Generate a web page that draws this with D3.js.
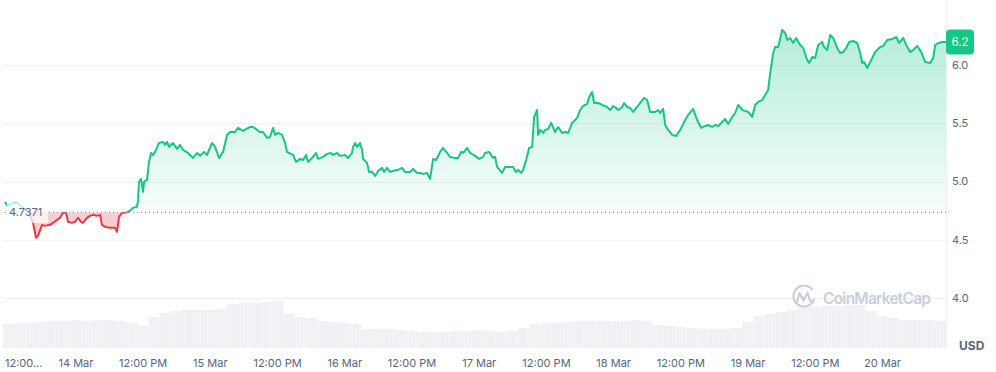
<!DOCTYPE html>
<html><head><meta charset="utf-8">
<script src="https://cdn.jsdelivr.net/npm/d3@7"></script>
<style>body{margin:0;background:#fff}svg{display:block;font-family:Inter,"Noto Sans",sans-serif}</style>
</head><body><svg id="c" width="996" height="372"></svg>
<script>
// hours since start (13 Mar 11:20) and prices (USD)
const hours=[0,0.36,0.89,1.61,2.14,2.86,3.57,4.29,5.0,5.54,
5.89,6.61,7.14,8.04,8.57,9.29,9.82,10.36,10.89,11.25,
11.96,12.5,13.04,13.57,13.93,14.64,15.18,15.71,16.43,16.96,
17.32,17.86,18.75,19.64,20.0,20.36,20.89,21.43,21.96,22.5,
22.86,23.57,23.75,23.93,24.29,24.64,24.82,25.36,25.71,26.07,
26.43,26.96,27.5,28.21,28.57,28.93,29.29,30.0,30.71,31.25,
31.79,32.68,33.57,34.29,34.82,35.54,36.07,36.96,37.5,38.21,
38.93,39.64,40.18,41.07,41.61,42.5,43.75,44.29,45.0,45.54,
46.07,46.79,47.32,47.86,48.21,48.75,49.46,50.0,50.36,50.71,
51.43,51.96,52.68,53.21,53.75,54.11,54.82,55.54,55.89,56.79,
57.5,58.21,58.57,59.29,59.82,60.71,61.25,61.96,62.14,62.5,
62.86,63.39,63.75,63.93,64.64,65.0,65.54,66.07,66.61,67.32,
67.68,68.21,68.75,69.29,70.18,70.89,71.43,72.32,72.86,73.57,
74.11,74.64,75.36,75.89,76.43,76.96,77.68,78.21,78.93,79.46,
80.36,80.89,81.43,81.79,82.5,83.04,83.93,84.64,85.36,85.71,
86.43,87.14,87.5,87.86,88.75,89.29,90.18,90.71,91.25,91.61,
92.14,92.5,93.04,93.57,94.11,94.46,95.0,95.18,95.54,96.07,
96.43,96.96,97.5,98.21,98.75,99.46,100.0,100.54,101.25,102.14,
102.68,103.21,103.93,104.29,104.82,105.18,105.89,106.61,107.5,108.04,
108.57,109.11,109.46,110.18,110.54,111.07,111.61,112.14,112.86,113.39,
114.11,114.64,115.18,116.07,116.61,116.96,117.5,117.86,118.39,119.11,
119.82,120.54,121.43,121.96,122.86,123.57,124.29,125.0,125.54,126.25,
126.79,127.32,128.04,128.57,129.11,129.82,130.36,130.89,131.61,132.14,
132.68,133.39,133.93,134.46,135.18,135.71,136.25,136.61,137.14,137.5,
138.04,138.75,139.29,139.64,140.18,140.71,141.25,141.96,142.5,143.21,
143.57,144.11,144.64,145.18,145.89,146.25,146.79,147.32,147.86,148.57,
149.11,149.64,150.18,150.71,151.43,152.14,152.68,153.04,153.39,153.93,
154.64,155.36,156.25,156.79,157.5,158.39,159.11,159.64,160.36,160.89,
161.61,162.14,162.86,163.57,164.29,165.18,165.71,166.07,166.61,167.32,
168];
const prices=[4.825,4.799,4.799,4.817,4.817,4.791,4.756,4.731,4.645,4.516,
4.533,4.628,4.619,4.628,4.645,4.671,4.688,4.731,4.731,4.654,
4.645,4.654,4.688,4.654,4.645,4.688,4.705,4.714,4.705,4.714,
4.628,4.611,4.602,4.602,4.568,4.696,4.731,4.731,4.739,4.756,
4.774,4.782,4.842,4.997,5.022,4.911,4.997,5.014,5.168,5.245,
5.228,5.271,5.331,5.340,5.314,5.340,5.297,5.331,5.280,5.314,
5.271,5.245,5.202,5.245,5.220,5.254,5.228,5.331,5.297,5.202,
5.254,5.400,5.425,5.425,5.460,5.434,5.468,5.468,5.443,5.425,
5.425,5.374,5.383,5.460,5.400,5.417,5.400,5.331,5.254,5.245,
5.228,5.168,5.194,5.185,5.228,5.168,5.202,5.245,5.194,5.211,
5.237,5.245,5.228,5.245,5.220,5.228,5.202,5.245,5.297,5.331,
5.297,5.331,5.271,5.194,5.160,5.082,5.082,5.048,5.091,5.117,
5.082,5.117,5.082,5.091,5.100,5.117,5.082,5.082,5.108,5.074,
5.074,5.065,5.074,5.022,5.194,5.185,5.254,5.288,5.245,5.211,
5.202,5.202,5.254,5.245,5.288,5.245,5.220,5.194,5.211,5.245,
5.254,5.202,5.211,5.125,5.074,5.125,5.125,5.125,5.082,5.100,
5.074,5.100,5.185,5.288,5.297,5.554,5.614,5.400,5.443,5.417,
5.443,5.451,5.503,5.425,5.468,5.417,5.425,5.417,5.503,5.545,
5.614,5.648,5.666,5.726,5.768,5.674,5.674,5.657,5.640,5.614,
5.648,5.631,5.614,5.640,5.674,5.640,5.631,5.597,5.640,5.674,
5.717,5.700,5.597,5.597,5.614,5.588,5.623,5.485,5.443,5.400,
5.391,5.443,5.528,5.571,5.623,5.528,5.460,5.477,5.485,5.468,
5.485,5.477,5.511,5.537,5.494,5.554,5.588,5.657,5.614,5.606,
5.597,5.554,5.657,5.683,5.700,5.743,5.786,5.931,6.103,6.154,
6.154,6.300,6.274,6.214,6.232,6.189,6.232,6.172,6.146,6.043,
6.017,6.069,6.060,6.172,6.197,6.154,6.129,6.257,6.232,6.146,
6.103,6.111,6.146,6.197,6.206,6.189,6.103,6.017,6.026,5.974,
6.043,6.111,6.154,6.163,6.214,6.223,6.240,6.189,6.232,6.172,
6.111,6.129,6.163,6.111,6.026,6.017,6.060,6.172,6.189,6.197,
6.197];
// volume, one value per 2 hours (relative units)
const volumes=[24,25,25,26,27,27,28,27,28,28,
27,25,22,31,35,37,38,38,38,39,
44,45,45,46,47,34,31,30,27,26,
25,24,19,19,19,18,17,16,16,16,
17,17,18,17,16,17,20,24,25,25,
26,27,27,27,27,27,28,27,23,22,
21,20,19,19,19,20,26,32,34,36,
38,40,41,42,42,43,43,37,32,30,
28,28,28,27,27];
const yTicks=[4.0,4.5,5.0,5.5,6.0];
const xTickHours=[12,24,36,48,60,72,84,96,108,120,132,144,156]; // offsets to tick times after 13 Mar 12:00
const baseline=4.7371;
const firstLabel="12:00...";
const currency="USD";

const H=3600e3;
const start=new Date(2024,2,13,11,20);
const end=new Date(+start+168*H);
const n=Math.min(hours.length,prices.length);
const data=d3.range(n).map(i=>({t:new Date(+start+hours[i]*H),v:prices[i]}));

const svg=d3.select("#c");
const x=d3.scaleTime().domain([start,end]).range([5,946]);
const y=d3.scaleLinear().domain([4,6]).range([298,65]);
const yv=d3.scaleLinear().domain([0,50]).range([348,298]);
const yB=y(baseline);
const grey="#58667e", green="#16c784", red="#ea3943";

const defs=svg.append("defs");
const g1=defs.append("linearGradient").attr("id","gg").attr("gradientUnits","userSpaceOnUse")
 .attr("x1",0).attr("x2",0).attr("y1",y(6.3)).attr("y2",yB);
g1.append("stop").attr("offset",0).attr("stop-color",green).attr("stop-opacity",0.32);
g1.append("stop").attr("offset",1).attr("stop-color",green).attr("stop-opacity",0.03);
defs.append("clipPath").attr("id","cu").append("rect").attr("x",0).attr("y",0).attr("width",996).attr("height",yB);
defs.append("clipPath").attr("id","cd").append("rect").attr("x",0).attr("y",yB).attr("width",996).attr("height",348-yB);
const pat=defs.append("pattern").attr("id","vp").attr("patternUnits","userSpaceOnUse").attr("width",3.3).attr("height",10);
pat.append("rect").attr("width",3.3).attr("height",10).attr("fill","#eef0f4");
pat.append("rect").attr("x",2.5).attr("width",0.8).attr("height",10).attr("fill","#f6f7f9");

// volume bars
const vStart=new Date(2024,2,13,11,20);
svg.append("g").selectAll("rect").data(volumes).join("rect")
 .attr("x",(d,i)=>x(new Date(+vStart+i*2*H))-2)
 .attr("width",(d,i)=>{const x0=x(new Date(+vStart+i*2*H))-2;const x1=Math.min(x(new Date(+vStart+(i+1)*2*H))-2,946);return Math.max(0,x1-x0);})
 .attr("y",d=>yv(d)).attr("height",d=>348-yv(d)).attr("fill","url(#vp)");

// grid
svg.append("g").selectAll("line").data(yTicks).join("line")
 .attr("x1",3).attr("x2",946).attr("y1",d=>Math.round(y(d))+0.5).attr("y2",d=>Math.round(y(d))+0.5)
 .attr("stroke","#eff1f4").attr("stroke-width",1);
svg.append("line").attr("x1",946.5).attr("x2",946.5).attr("y1",0).attr("y2",348).attr("stroke","#eff1f4");

// watermark
const wm=svg.append("g").attr("fill","none").attr("stroke","#c9cfd9");
wm.append("path").attr("d","M813.5,300.5 A10.5,10.5 0 1 1 812.5,290").attr("stroke-width",2.2);
wm.append("path").attr("d","M797,302 L799.5,293 L803.5,300.5 L807.5,292.5 L809.5,299 Q811,303 814,300").attr("stroke-width",2.2).attr("stroke-linejoin","round").attr("stroke-linecap","round");
svg.append("text").attr("x",823).attr("y",304).attr("font-size",15.5).attr("font-weight",600)
 .attr("fill","#c9cfd9").attr("textLength",108).text("CoinMarketCap");

// areas
const area=d3.area().x(d=>x(d.t)).y0(yB).y1(d=>y(d.v));
const line=d3.line().x(d=>x(d.t)).y(d=>y(d.v));
svg.append("path").datum(data).attr("d",area).attr("fill","url(#gg)").attr("clip-path","url(#cu)");
svg.append("path").datum(data).attr("d",area).attr("fill",red).attr("fill-opacity",0.25).attr("clip-path","url(#cd)");
svg.append("path").datum(data).attr("d",line).attr("fill","none").attr("stroke",green).attr("stroke-width",2)
 .attr("stroke-linejoin","round").attr("clip-path","url(#cu)");
svg.append("path").datum(data).attr("d",line).attr("fill","none").attr("stroke",red).attr("stroke-width",2)
 .attr("stroke-linejoin","round").attr("clip-path","url(#cd)");

// baseline
svg.append("line").attr("x1",5).attr("x2",946).attr("y1",Math.round(yB)+0.5).attr("y2",Math.round(yB)+0.5)
 .attr("stroke","#8f97a8").attr("stroke-dasharray","1,3");
svg.append("rect").attr("x",7).attr("y",yB-10).attr("width",41).attr("height",21).attr("fill","#fff").attr("fill-opacity",0.72);
svg.append("text").attr("x",9).attr("y",yB).attr("dy","0.36em").attr("font-size",11).attr("fill",grey).text(baseline);

// y axis labels
svg.append("g").selectAll("text").data(yTicks).join("text")
 .attr("x",952).attr("y",d=>y(d)).attr("dy","0.36em").attr("font-size",11).attr("fill",grey).text(d=>d.toFixed(1));

// price tag
const last=data[data.length-1];
svg.append("rect").attr("x",946).attr("y",y(last.v)-12.5).attr("width",28).attr("height",25).attr("rx",4).attr("fill",green);
svg.append("text").attr("x",960).attr("y",y(last.v)).attr("dy","0.36em").attr("text-anchor","middle")
 .attr("font-size",11.5).attr("fill","#fff").text(last.v.toFixed(1));

// x axis labels
const t0=new Date(2024,2,13,12,0);
const fmtDay=d3.timeFormat("%-d %b"), fmtTime=d3.timeFormat("%I:%M %p");
svg.append("g").selectAll("text").data(xTickHours.map(h=>new Date(+t0+h*H))).join("text")
 .attr("x",d=>x(d)).attr("y",363).attr("dy","0.36em").attr("text-anchor","middle").attr("font-size",11).attr("fill",grey)
 .text(d=>d.getHours()===0?fmtDay(d):fmtTime(d));
svg.append("text").attr("x",5).attr("y",363).attr("dy","0.36em").attr("font-size",11).attr("fill",grey).text(firstLabel);
svg.append("text").attr("x",959).attr("y",346).attr("dy","0.36em").attr("font-size",12).attr("font-weight",700).attr("fill",grey).text(currency);
</script></body></html>
